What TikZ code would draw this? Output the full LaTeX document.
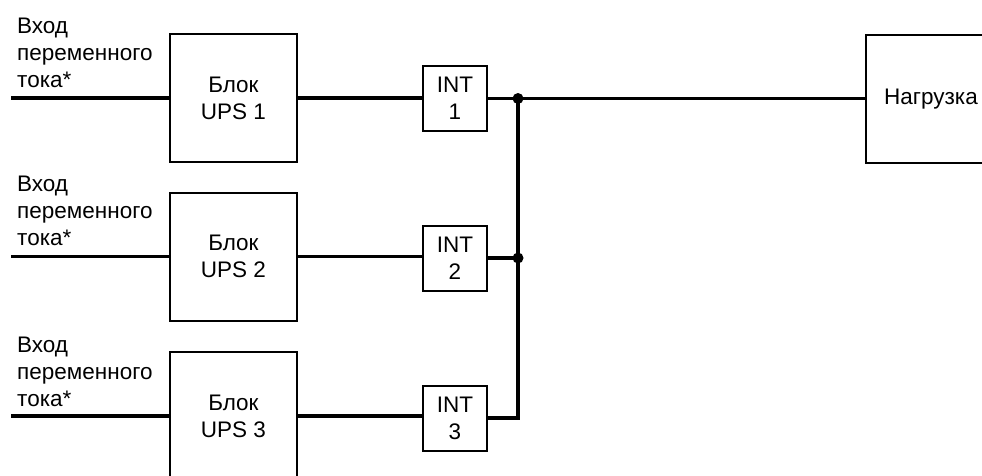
\documentclass[tikz,border=0pt]{standalone}
\usepackage{fontspec}
\setmainfont{Liberation Sans}
\begin{document}
\begin{tikzpicture}[x=1pt,y=-1pt,
  txt/.style={font=\fontsize{22.5}{27}\selectfont},
  blk/.style={draw,line width=2pt,minimum width=127pt,minimum height=128pt,align=center,txt,inner sep=0pt},
  intbox/.style={draw,line width=2pt,minimum width=64pt,minimum height=65pt,align=center,txt,inner sep=0pt},
  wire/.style={line width=3.2pt},
  lbl/.style={align=left,txt,anchor=base west,inner sep=0pt},
  dot/.style={circle,fill,inner sep=0pt,minimum size=11pt}]
\useasboundingbox (0,0) rectangle (982,475);
\clip (0,0) rectangle (982,475);
% UPS blocks
\node[blk] (u1) at (233.5,98) {Блок\\UPS 1};
\node[blk] (u2) at (233.5,256.5) {Блок\\UPS 2};
\node[blk] (u3) at (233.5,416) {Блок\\UPS 3};
% INT boxes
\node[intbox] (i1) at (455,98.5) {INT\\1};
\node[intbox] (i2) at (455,258) {INT\\2};
\node[intbox] (i3) at (455,418) {INT\\3};
% load
\node[blk,minimum width=130pt] (ld) at (931,99) {Нагрузка};
% input labels (anchor at baseline of last line)
\node[lbl] (t1) at (17,87) {Вход\\переменного\\тока*};
\node[lbl] (t2) at (17,245) {Вход\\переменного\\тока*};
\node[lbl] (t3) at (17,406) {Вход\\переменного\\тока*};
% input wires
\coordinate (a1) at (11,98);
\coordinate (a2) at (11,256.5);
\coordinate (a3) at (11,416);
\draw[wire] (a1) -- (u1.west);
\draw[wire] (a2) -- (u2.west);
\draw[wire] (a3) -- (u3.west);
% UPS to INT
\draw[wire] (u1.east) -- (u1.east -| i1.west);
\draw[wire] (u2.east) -- (u2.east -| i2.west);
\draw[wire] (u3.east) -- (u3.east -| i3.west);
% bus
\node[dot] (j1) at (518,98.5) {};
\node[dot] (j2) at (518,258) {};
\coordinate (j3) at (518,418);
\draw[wire] (i1.east) -- (j1.center) -- (ld.west |- j1.center);
\draw[wire] (i2.east) -- (j2.center);
\draw[wire] (i3.east) -- (j3) -- (j1.center);
\end{tikzpicture}
\end{document}
